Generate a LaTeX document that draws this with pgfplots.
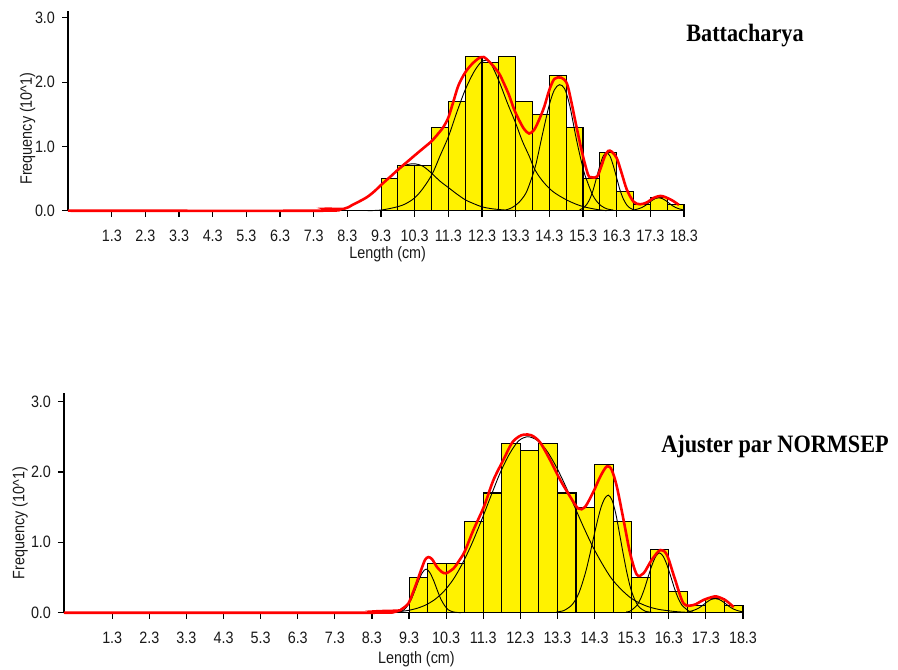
\documentclass[border=0pt]{standalone}
\usepackage{pgfplots}
\pgfplotsset{compat=1.18}
\usepackage{fontspec}
\setmainfont{Liberation Sans}
\newfontfamily\labfont[FakeStretch=0.87]{Liberation Sans}
\newfontfamily\titlefont[FakeStretch=0.89]{Liberation Serif}

\pgfplotsset{
  fishaxis/.style={
    scale only axis,
    axis lines=left,
    axis line style={-, line width=1.4pt, black},
    xmin=0, xmax=18.3, ymin=0,
    xtick={1.3,2.3,3.3,4.3,5.3,6.3,7.3,8.3,9.3,10.3,11.3,12.3,13.3,14.3,15.3,16.3,17.3,18.3},
    xticklabels={1.3,2.3,3.3,4.3,5.3,6.3,7.3,8.3,9.3,10.3,11.3,12.3,13.3,14.3,15.3,16.3,17.3,18.3},
    ytick={0,1,2,3},
    yticklabels={0.0,1.0,2.0,3.0},
    tick align=outside,
    major tick length=6pt,
    tick style={line width=1.2pt, black},
    tick label style={font=\labfont\fontsize{16.5}{18}\selectfont, text=black!90},
    xticklabel style={yshift=-10pt},
    yticklabel style={xshift=-3.5pt},
    label style={font=\labfont\fontsize{16.5}{18}\selectfont, text=black!90},
    xlabel={Length (cm)},
    ylabel={Frequency (10\textasciicircum 1)},
    clip=false,
  },
  bars/.style={ybar interval, fill=yellow, draw=black, line width=1.1pt},
  comp/.style={black, line width=0.9pt, smooth},
  fit/.style={red, line width=2.6pt, smooth},
}

\begin{document}
\begin{tikzpicture}[x=1pt,y=1pt]
\useasboundingbox (0,0) rectangle (898,670);

% ---------------- top panel: Battacharya ----------------
\begin{axis}[fishaxis,
  at={(68pt,459.3pt)}, anchor=south west,
  width=616pt, height=199.3pt, ymax=3.1,
  xlabel style={at={(axis description cs:0.519,-0.217)}, anchor=center},
  ylabel style={at={(axis description cs:-0.0657,0.412)}, anchor=center},
]
\addplot[bars] coordinates {(9.3,0.5) (9.8,0.7) (10.3,0.7) (10.8,1.3) (11.3,1.7) (11.8,2.4) (12.3,2.3) (12.8,2.4) (13.3,1.7) (13.8,1.5) (14.3,2.1) (14.8,1.3) (15.3,0.5) (15.8,0.9) (16.3,0.3) (16.8,0.1) (17.3,0.2) (17.8,0.1) (18.3,0.1)};
% components
\addplot[comp] coordinates {(9.8,0.62) (9.95,0.69) (10.1,0.72) (10.25,0.73) (10.4,0.72) (10.55,0.69) (10.7,0.63) (10.85,0.56) (11.05,0.46) (11.3,0.36) (11.55,0.26) (11.8,0.17) (12.05,0.11) (12.3,0.06) (12.6,0.03) (13.0,0.01) (13.4,0.0)};
\addplot[comp] coordinates {(8.9,0) (9.3,0.01) (9.7,0.05) (10.0,0.1) (10.3,0.2) (10.55,0.35) (10.82,0.57) (11.05,0.85) (11.3,1.15) (11.55,1.53) (11.8,1.88) (12.05,2.15) (12.25,2.3) (12.4,2.34) (12.55,2.3) (12.8,2.02) (13.05,1.68) (13.3,1.36) (13.5,1.08) (13.7,0.85) (13.84,0.67) (14.0,0.53) (14.2,0.4) (14.4,0.3) (14.6,0.23) (14.84,0.16) (15.1,0.1) (15.33,0.06) (15.7,0.02) (16.0,0)};
\addplot[comp] coordinates {(13.0,0.01) (13.2,0.05) (13.4,0.13) (13.6,0.27) (13.75,0.47) (13.9,0.72) (14.1,1.2) (14.3,1.65) (14.45,1.88) (14.6,1.96) (14.75,1.9) (14.9,1.65) (15.08,1.17) (15.2,0.88) (15.33,0.6) (15.45,0.42) (15.58,0.25) (15.7,0.15) (15.83,0.08) (16.0,0.03) (16.2,0.01)};
\addplot[comp] coordinates {(15.2,0.015) (15.3,0.04) (15.4,0.09) (15.5,0.18) (15.6,0.32) (15.7,0.51) (15.8,0.70) (15.9,0.85) (16.0,0.9) (16.1,0.85) (16.2,0.70) (16.3,0.51) (16.4,0.32) (16.5,0.18) (16.6,0.09) (16.7,0.04) (16.8,0.015)};
\addplot[comp] coordinates {(16.8,0.01) (16.95,0.03) (17.05,0.05) (17.15,0.08) (17.25,0.12) (17.35,0.16) (17.45,0.19) (17.55,0.2) (17.65,0.19) (17.75,0.16) (17.85,0.12) (17.95,0.08) (18.05,0.05) (18.15,0.03) (18.3,0.01)};
% total fit
\addplot[fit] coordinates {(0,0) (7.6,0) (7.65,0.03) (8.2,0.03) (8.45,0.09) (8.85,0.2) (9.1,0.3) (9.3,0.4) (9.6,0.54) (9.85,0.66) (10.1,0.77) (10.3,0.86) (10.55,0.97) (10.8,1.08) (11.0,1.2) (11.15,1.3) (11.3,1.45) (11.45,1.7) (11.6,1.95) (11.8,2.15) (12.0,2.28) (12.2,2.37) (12.35,2.39) (12.55,2.3) (12.8,2.14) (12.95,1.98) (13.1,1.8) (13.25,1.58) (13.4,1.41) (13.55,1.27) (13.7,1.2) (13.85,1.26) (14.0,1.42) (14.15,1.62) (14.3,1.88) (14.45,2.05) (14.65,2.07) (14.82,1.98) (14.95,1.7) (15.1,1.32) (15.28,0.89) (15.45,0.56) (15.55,0.52) (15.72,0.53) (15.85,0.7) (15.95,0.85) (16.05,0.93) (16.15,0.92) (16.3,0.82) (16.45,0.58) (16.6,0.33) (16.8,0.14) (17.0,0.1) (17.2,0.13) (17.4,0.2) (17.6,0.23) (17.75,0.21) (17.95,0.16) (18.15,0.09)};
\end{axis}

% ---------------- bottom panel: NORMSEP ----------------
\begin{axis}[fishaxis,
  at={(64pt,57.3pt)}, anchor=south west,
  width=679pt, height=219.6pt, ymax=3.12,
  xlabel style={at={(axis description cs:0.519,-0.213)}, anchor=center},
  ylabel style={at={(axis description cs:-0.0648,0.408)}, anchor=center},
]
\addplot[bars] coordinates {(9.3,0.5) (9.8,0.7) (10.3,0.7) (10.8,1.3) (11.3,1.7) (11.8,2.4) (12.3,2.3) (12.8,2.4) (13.3,1.7) (13.8,1.5) (14.3,2.1) (14.8,1.3) (15.3,0.5) (15.8,0.9) (16.3,0.3) (16.8,0.1) (17.3,0.2) (17.8,0.1) (18.3,0.1)};
% components
\addplot[comp] coordinates {(8.4,0) (9.0,0.01) (9.16,0.04) (9.26,0.1) (9.36,0.19) (9.46,0.32) (9.56,0.46) (9.66,0.57) (9.76,0.62) (9.86,0.57) (9.96,0.46) (10.06,0.32) (10.16,0.19) (10.26,0.1) (10.36,0.04) (10.5,0.01) (10.7,0)};
\addplot[comp] coordinates {(8.8,0.01) (9.0,0.016) (9.25,0.03) (9.5,0.06) (9.75,0.11) (10.0,0.19) (10.25,0.31) (10.5,0.48) (10.75,0.71) (11.0,0.99) (11.25,1.31) (11.5,1.65) (11.75,1.98) (12.0,2.25) (12.25,2.44) (12.5,2.5) (12.75,2.45) (13.0,2.31) (13.25,2.09) (13.5,1.82) (13.75,1.52) (14.0,1.22) (14.25,0.94) (14.5,0.7) (14.75,0.49) (15.0,0.34) (15.25,0.22) (15.5,0.14) (15.75,0.085) (16.0,0.05) (16.25,0.03) (16.5,0.015) (16.8,0.005)};
\addplot[comp] coordinates {(13.27,0.01) (13.47,0.03) (13.67,0.1) (13.77,0.17) (13.87,0.27) (13.97,0.42) (14.07,0.6) (14.17,0.82) (14.27,1.06) (14.37,1.29) (14.47,1.49) (14.57,1.62) (14.67,1.67) (14.77,1.6) (14.87,1.41) (14.97,1.13) (15.07,0.84) (15.17,0.57) (15.27,0.35) (15.37,0.2) (15.47,0.1) (15.57,0.05) (15.67,0.02) (15.85,0.005)};
\addplot[comp] coordinates {(15.15,0.01) (15.25,0.02) (15.35,0.06) (15.45,0.11) (15.55,0.21) (15.65,0.35) (15.75,0.52) (15.85,0.68) (15.95,0.8) (16.05,0.85) (16.15,0.8) (16.25,0.68) (16.35,0.52) (16.45,0.35) (16.55,0.21) (16.65,0.11) (16.75,0.06) (16.85,0.02) (16.95,0.01)};
\addplot[comp] coordinates {(16.8,0.01) (16.95,0.03) (17.05,0.05) (17.15,0.08) (17.25,0.12) (17.35,0.16) (17.45,0.19) (17.55,0.2) (17.65,0.19) (17.75,0.16) (17.85,0.12) (17.95,0.08) (18.05,0.05) (18.15,0.03) (18.3,0.01)};
% total fit
\addplot[fit] coordinates {(0,0) (8.38,0) (8.42,0.02) (9.0,0.03) (9.1,0.05) (9.28,0.13) (9.4,0.28) (9.5,0.42) (9.62,0.6) (9.73,0.75) (9.82,0.79) (9.92,0.76) (10.05,0.65) (10.18,0.58) (10.3,0.56) (10.5,0.63) (10.65,0.74) (10.8,0.87) (11.03,1.17) (11.32,1.51) (11.57,1.88) (11.84,2.17) (12.07,2.41) (12.25,2.5) (12.4,2.53) (12.6,2.52) (12.83,2.42) (13.1,2.17) (13.37,1.89) (13.64,1.65) (13.86,1.48) (14.04,1.5) (14.27,1.72) (14.45,1.93) (14.63,2.08) (14.76,2.03) (14.9,1.79) (15.08,1.32) (15.26,0.84) (15.44,0.54) (15.62,0.56) (15.84,0.75) (16.07,0.89) (16.25,0.82) (16.47,0.47) (16.7,0.13) (16.97,0.11) (17.23,0.18) (17.45,0.22) (17.59,0.23) (17.82,0.18) (18.05,0.08)};
\end{axis}

% panel titles
\node[font=\titlefont\bfseries\fontsize{25}{28}\selectfont, anchor=center] at (745,634) {Battacharya};
\node[font=\titlefont\bfseries\fontsize{25}{28}\selectfont, anchor=center] at (775,224) {Ajuster par NORMSEP};
\end{tikzpicture}
\end{document}
